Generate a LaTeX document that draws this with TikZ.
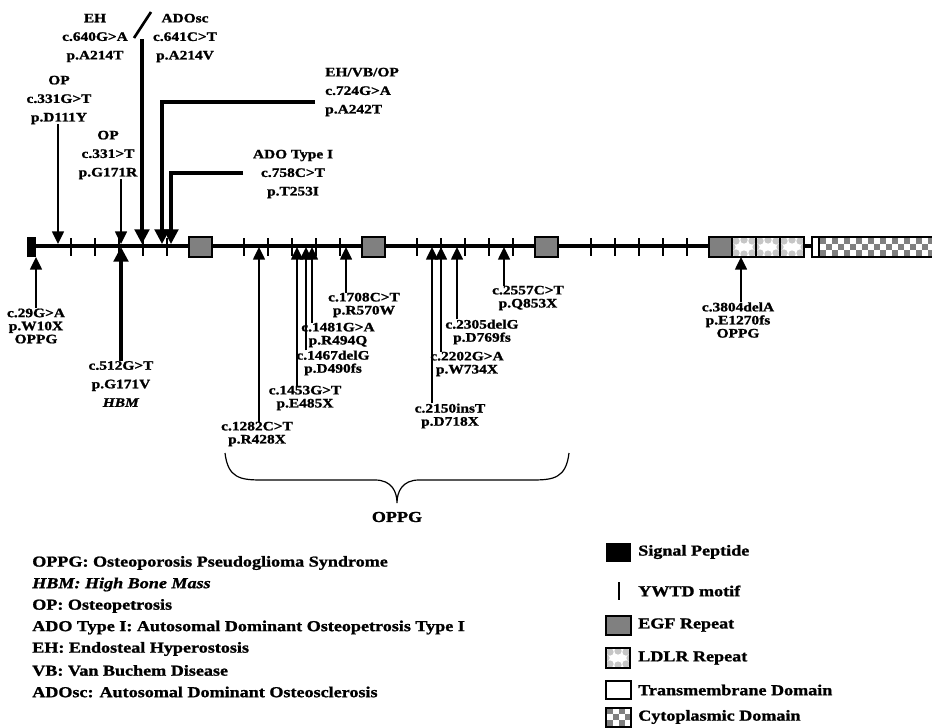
\documentclass[tikz,border=0pt]{standalone}
\usepackage{fontspec}
\setmainfont{Liberation Serif}[FakeStretch=1.19,
  BoldFeatures={FakeBold=1.3}, BoldItalicFeatures={FakeBold=1.3}]
\usetikzlibrary{arrows.meta}

\newcommand\ldlrbox[2]{%
  \begin{scope}
    \clip (#1,#2) rectangle ++(24,20);
    \fill[white] (#1,#2) rectangle ++(24,20);
    \foreach \dx/\dy in {4/4,12/3,20/4,4/16,12/17,20/16,0/10,24/10}
      \fill[gray!45] (#1+\dx,#2+\dy) circle[radius=3.6];
  \end{scope}
  \draw[dom] (#1,#2) rectangle ++(24,20);}

\begin{document}
\begin{tikzpicture}[x=0.75pt,y=-0.75pt,
   every node/.style={font=\bfseries\fontsize{9.7}{13.9}\selectfont, inner sep=0pt},
   lab/.style={align=center},
   tight/.style={align=center, font=\bfseries\fontsize{9.7}{9.8}\selectfont},
   key/.style={anchor=west, font=\bfseries\fontsize{11.4}{13}\selectfont},
   mut/.style={line width=1.1pt, -{Triangle[width=9pt,length=9.5pt]}},
   mutthick/.style={line width=2.3pt, -{Triangle[width=11pt,length=11pt]}},
   ywtd/.style={line width=1.5pt},
   dom/.style={draw, line width=1.2pt}]

\useasboundingbox (0,0) rectangle (932,728);

\draw[line width=2.6pt] (36,246) -- (812,246);
\fill (27,237) rectangle (36,257);
\foreach \b in {189,362,535,709}{
  \foreach \k in {0,...,4} \draw[ywtd] (\b-118+24*\k,238) -- ++(0,18);
  \draw[dom, fill=gray] (\b,237) rectangle ++(23,20);
}
\foreach \lx in {732,756,780} \ldlrbox{\lx}{237};
\draw[dom, fill=white] (812,237) rectangle (819,257);
\foreach \i in {0,2,...,18}{
  \fill[gray] (820+6*\i,238) rectangle ++(6,6);
  \fill[gray] (820+6*\i,250) rectangle ++(6,6);
  \fill[gray] (826+6*\i,244) rectangle ++(6,6);
}
\draw[dom] (819,237) rectangle (936,257);

\node[lab] (A214T) at (95,38) {EH\\c.640G>A\\p.A214T};
\node[lab] (A214V) at (185,38) {ADOsc\\c.641C>T\\p.A214V};
\node[lab] (D111Y) at (59,100) {OP\\c.331G>T\\p.D111Y};
\node[lab] (G171R) at (108,155) {OP\\c.331>T\\p.G171R};
\node[lab, anchor=west, align=left] (A242T) at (325,92) {EH/VB/OP\\c.724G>A\\p.A242T};
\node[lab] (T253I) at (293,174) {ADO Type I\\c.758C>T\\p.T253I};

\coordinate (D111Y-t) at (58,244);
\coordinate (G171R-t) at (121,244);
\coordinate (A214-t) at (142,244);
\coordinate (A242T-t) at (162,244);
\coordinate (T253I-t) at (171,244);
\coordinate (A214-s) at (142,39);
\coordinate (A242T-s) at (315,102);
\coordinate (T253I-s) at (243,173);

\draw[mut] (D111Y-t |- D111Y.south) -- (D111Y-t);
\draw[mut] (G171R-t |- G171R.south) -- (G171R-t);
\draw[mutthick] (A214-s) -- (A214-t);
\draw[line width=2pt] (134,38) -- (151,12);
\draw[mutthick] (A242T-s) -| (A242T-t);
\draw[mutthick] (T253I-s) -| (T253I-t);

\node[tight] (W10X) at (36,326) {c.29G>A\\p.W10X\\OPPG};
\node[lab] (G171V) at (121,384) {c.512G>T\\p.G171V\\\textit{HBM}};
\node[tight] (R428X) at (257,434) {c.1282C>T\\p.R428X};
\node[tight] (E485X) at (305,398) {c.1453G>T\\p.E485X};
\node[tight] (D490fs) at (333,363) {c.1467delG\\p.D490fs};
\node[tight] (R494Q) at (338,335) {c.1481G>A\\p.R494Q};
\node[tight] (R570W) at (364,305) {c.1708C>T\\p.R570W};
\node[tight] (D718X) at (450,416) {c.2150insT\\p.D718X};
\node[tight] (W734X) at (467,364) {c.2202G>A\\p.W734X};
\node[tight] (D769fs) at (482,332) {c.2305delG\\p.D769fs};
\node[tight] (Q853X) at (528,298) {c.2557C>T\\p.Q853X};
\node[tight] (E1270fs) at (738,320) {c.3804delA\\p.E1270fs\\OPPG};

\coordinate (W10X-t) at (36,257);
\coordinate (G171V-t) at (121,247);
\coordinate (R428X-t) at (259,247);
\coordinate (E485X-t) at (297,247);
\coordinate (D490fs-t) at (306,247);
\coordinate (R494Q-t) at (312,247);
\coordinate (R570W-t) at (346,247);
\coordinate (D718X-t) at (432,247);
\coordinate (W734X-t) at (441,247);
\coordinate (D769fs-t) at (457,247);
\coordinate (Q853X-t) at (504,247);
\coordinate (E1270fs-t) at (741,257);

\foreach \m in {W10X,R428X,E485X,D490fs,R494Q,R570W,D718X,W734X,D769fs,Q853X,E1270fs}
  \draw[mut] (\m-t |- \m.north) -- (\m-t);
\draw[mutthick] (G171V-t |- G171V.north) -- (G171V-t);

\draw[line width=0.9pt] (225,453) .. controls (228,478) and (240,480) .. (262,480) -- (375,480)
  .. controls (392,480) and (397,492) .. (397,503) .. controls (397,492) and (402,480) .. (419,480)
  -- (532,480) .. controls (554,480) and (566,478) .. (569,453);
\node[key, anchor=center] (OPPG) at (397,517) {OPPG};

\foreach \t [count=\i] in {OPPG: Osteoporosis Pseudoglioma Syndrome,
    {\itshape HBM: High Bone Mass}, OP: Osteopetrosis,
    ADO Type I: Autosomal Dominant Osteopetrosis Type I,
    EH: Endosteal Hyperostosis, VB: Van Buchem Disease,
    ADOsc: Autosomal Dominant Osteosclerosis}
  \node[key] (abbr\i) at (32,{541.5+21.5*\i}) {\t};

\fill (606,543) rectangle (631,562);
\node[key] (kSP) at (638,552) {Signal Peptide};
\draw[ywtd] (619,582) -- (619,600);
\node[key] (kYW) at (638,591) {YWTD motif};
\draw[dom, fill=gray] (606,616) rectangle (631,635);
\node[key] (kEGF) at (638,625) {EGF Repeat};
\ldlrbox{606}{648}
\node[key] (kLDLR) at (638,658) {LDLR Repeat};
\draw[dom, fill=white] (606,681) rectangle (631,699);
\node[key] (kTM) at (638,690) {Transmembrane Domain};
\foreach \i in {0,2}{
  \fill[gray] (607+6*\i,708) rectangle ++(6,6);
  \fill[gray] (607+6*\i,720) rectangle ++(6,6);
  \fill[gray] (613+6*\i,714) rectangle ++(6,6);
}
\draw[dom] (606,708) rectangle (631,727);
\node[key] (kCD) at (638,717) {Cytoplasmic Domain};

\end{tikzpicture}
\end{document}
